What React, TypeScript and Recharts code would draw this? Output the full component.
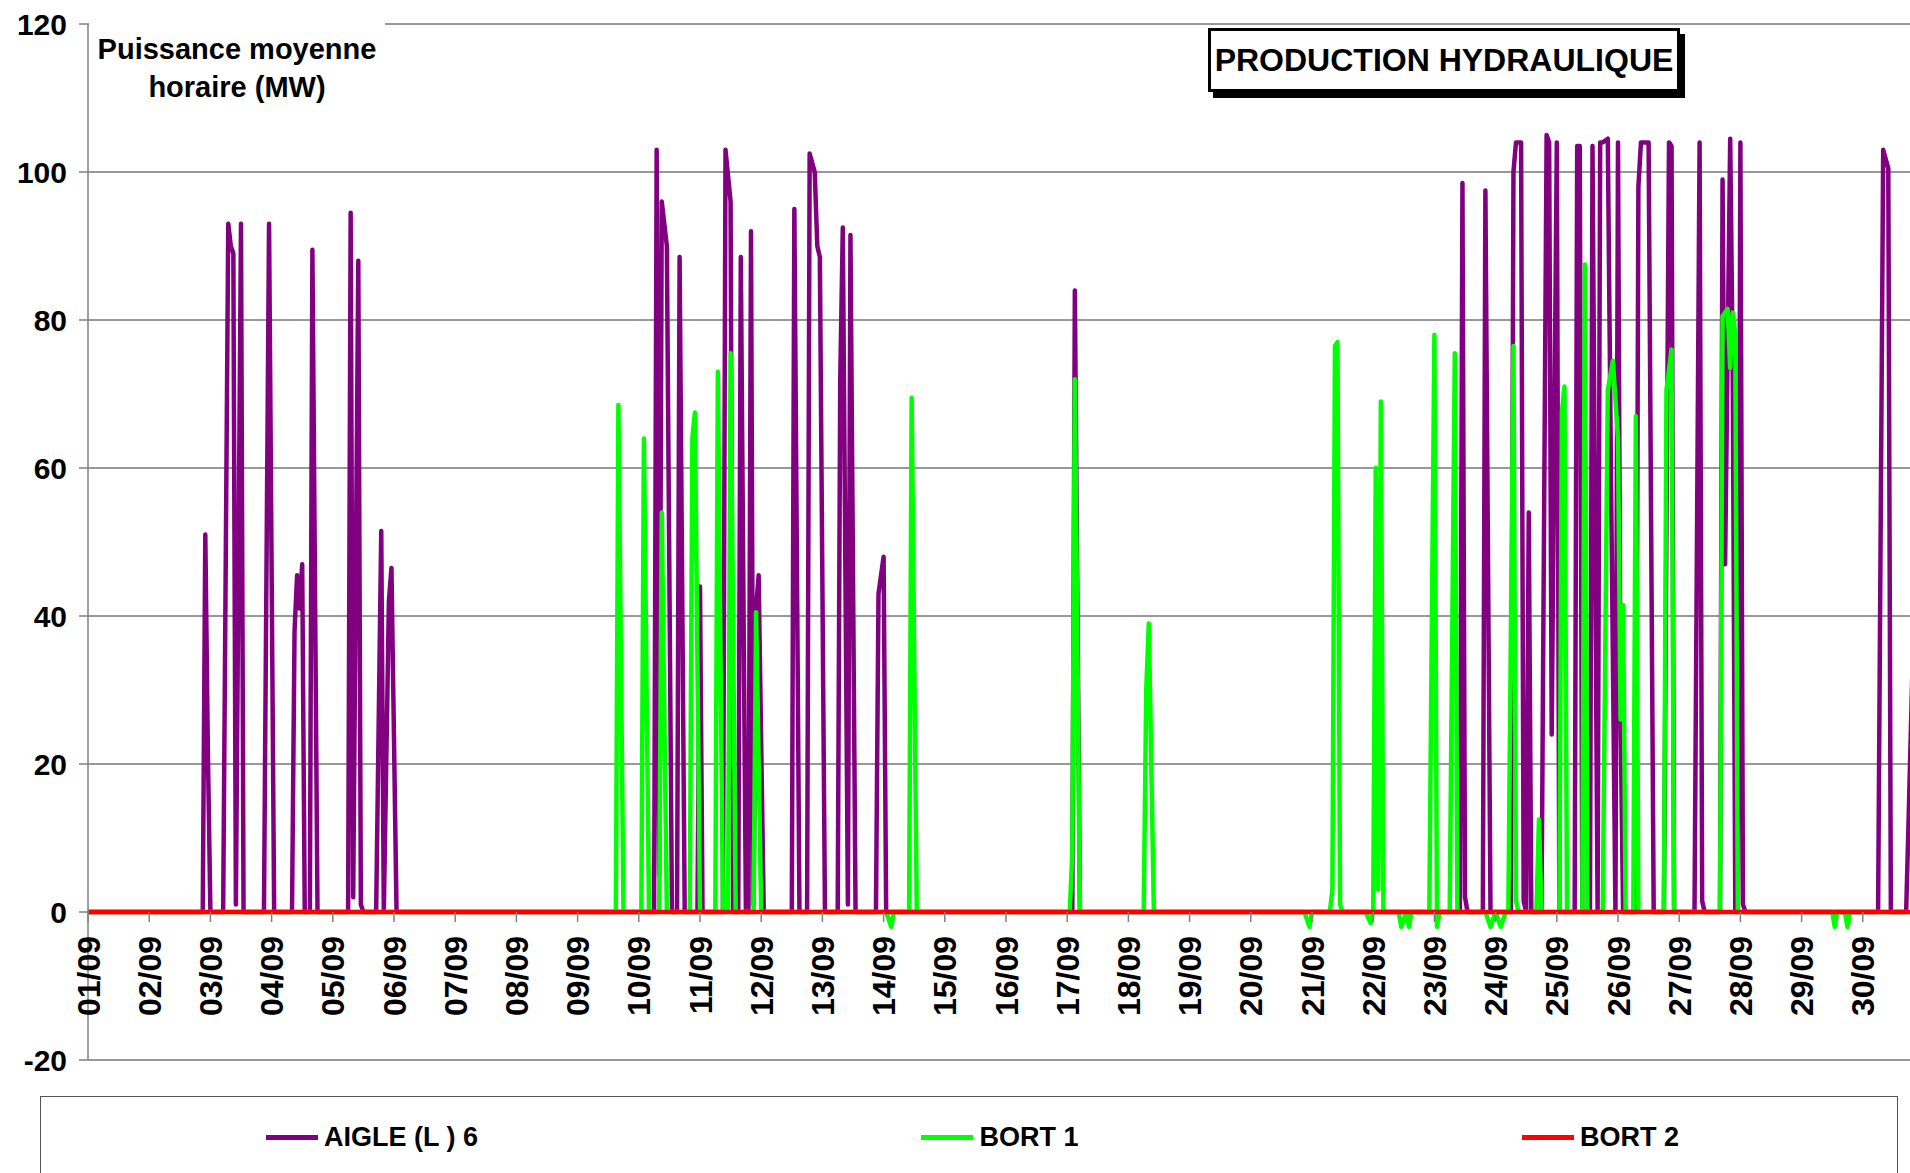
import { CartesianGrid, Line, LineChart, XAxis, YAxis } from 'recharts';

// hour index (0 = 01/09 00h) -> average hourly power (MW), vertices
const AIGLE_PTS: [number, number][] = [
  [0, 0],
  [45, 0], [46, 51], [47, 22], [48, 0],
  [53, 0], [55, 93], [56, 90], [57, 89], [58, 1], [60, 93], [61, 0],
  [69, 0], [71, 93], [73, 0],
  [80, 0], [81, 38], [82, 45.5], [83, 41], [84, 47], [85, 0],
  [87, 0], [88, 89.5], [90, 0],
  [102, 0], [103, 94.5], [104, 2], [106, 88], [107, 1], [108, 0],
  [113, 0], [115, 51.5], [116, 0], [118, 42], [119, 46.5], [121, 0],
  [222, 0], [223, 103], [224, 5], [225, 96], [227, 90], [229, 0],
  [231, 0], [232, 88.5], [234, 0],
  [239, 0], [240, 44], [241, 0],
  [249, 0], [250, 103], [252, 96], [253, 0],
  [255, 0], [256, 88.5], [258, 0],
  [259, 0], [260, 92], [261, 1], [262, 41], [263, 45.5], [265, 0],
  [276, 0], [277, 95], [279, 0],
  [282, 0], [283, 102.5], [285, 100], [286, 90], [287, 88.5], [289, 0],
  [294, 0], [295, 72], [296, 92.5], [298, 1], [299, 91.5], [301, 0],
  [309, 0], [310, 43], [312, 48], [313, 0],
  [386, 0], [387, 84], [389, 0],
  [538, 0], [539, 98.5], [540, 2], [541, 0],
  [547, 0], [548, 97.5], [550, 0],
  [558, 0], [559, 100], [560, 104], [562, 104], [563, 1.5], [564, 0], [565, 54], [566, 0],
  [570, 0], [572, 105], [573, 104], [574, 24], [576, 104], [577, 0],
  [583, 0], [584, 103.5], [585, 103.5], [586, 0],
  [589, 0], [590, 103.5], [592, 0], [593, 104], [594, 104], [596, 104.5], [597, 68], [599, 0],
  [600, 104], [601, 26], [602, 0],
  [607, 0], [608, 98], [609, 104], [612, 104], [614, 0],
  [618, 0], [620, 104], [621, 103.5], [622, 0],
  [630, 0], [632, 104], [633, 1.5], [634, 0],
  [640, 0], [641, 99], [642, 47], [644, 104.5], [645, 73.5], [646, 0],
  [647, 0], [648, 104], [649, 1], [650, 0],
  [702, 0], [704, 103], [706, 100.5], [707, 0],
  [713, 0], [714, 13], [716, 40],
];

const BORT1_PTS: [number, number][] = [
  [0, 0],
  [207, 0], [208, 68.5], [210, 0],
  [217, 0], [218, 64], [220, 0],
  [224, 0], [225, 54], [227, 0],
  [236, 0], [237, 64], [238, 67.5], [240, 0],
  [246, 0], [247, 73], [249, 0],
  [251, 0], [252, 75.5], [254, 0],
  [261, 0], [262, 40.5], [264, 0],
  [313, 0], [315, -2], [316, 0],
  [322, 0], [323, 69.5], [325, 0],
  [385, 0], [386, 8], [387, 72], [389, 0],
  [414, 0], [415, 30], [416, 39], [418, 0],
  [477, 0], [479, -2], [480, 0],
  [487, 0], [488, 3], [489, 76.5], [490, 77], [491, 1], [492, 0],
  [501, 0], [503, -1.5], [504, 0], [505, 60], [506, 3], [507, 69], [508, 0],
  [514, 0], [515, -2], [517, 0], [518, -2], [519, 0],
  [526, 0], [528, 78], [529, -2], [530, 0],
  [534, 0], [536, 75.5], [537, 0],
  [548, 0], [550, -2], [552, 0], [554, -2], [556, 0],
  [557, 0], [559, 76.5], [560, 1.5], [561, 0],
  [568, 0], [569, 12.5], [570, 0],
  [577, 0], [578, 67.5], [579, 71], [580, 0],
  [586, 0], [587, 87.5], [588, 0],
  [594, 0], [596, 70.5], [598, 74.5], [600, 64], [601, 26], [602, 41.5], [603, 0],
  [606, 0], [607, 67], [608, 0],
  [618, 0], [619, 70.5], [621, 76], [622, 0],
  [640, 0], [641, 80.5], [643, 81.5], [644, 73.5], [645, 81], [646, 78], [647, 0],
  [684, 0], [685, -2], [686, 0],
  [689, 0], [690, -2], [691, 0],
  [720, 0],
];

const BORT2_PTS: [number, number][] = [
  [0, 0],
  [720, 0],
];

const DAY_LABELS = [
  '01/09', '02/09', '03/09', '04/09', '05/09', '06/09', '07/09', '08/09', '09/09', '10/09',
  '11/09', '12/09', '13/09', '14/09', '15/09', '16/09', '17/09', '18/09', '19/09', '20/09',
  '21/09', '22/09', '23/09', '24/09', '25/09', '26/09', '27/09', '28/09', '29/09', '30/09',
];
const Y_TICKS = [-20, 0, 20, 40, 60, 80, 100, 120];

const SERIES = [
  { name: 'AIGLE (L ) 6', color: '#800080', points: AIGLE_PTS },
  { name: 'BORT 1', color: '#00FF00', points: BORT1_PTS },
  { name: 'BORT 2', color: '#FF0000', points: BORT2_PTS },
];

const FONT = "'Liberation Sans', Arial, Helvetica, sans-serif";
const CHART_W = 1940;
const CHART_H = 1173;
const PLOT_TOP = 24;
const PLOT_BOTTOM = 1060;
const Y_MIN = -20;
const Y_MAX = 120;
const ZERO_Y = PLOT_TOP + (Y_MAX / (Y_MAX - Y_MIN)) * (PLOT_BOTTOM - PLOT_TOP);
const DAY_TICKS = DAY_LABELS.map((_, i) => i * 24);

function DayTick({ x, payload }: any) {
  const label = DAY_LABELS[Math.round(payload.value / 24)];
  return (
    <g>
      <line x1={x} x2={x} y1={ZERO_Y} y2={ZERO_Y + 10} stroke="#808080" strokeWidth={1.5} />
      <text
        transform={`translate(${x + 11.5},${ZERO_Y + 24}) rotate(-90)`}
        textAnchor="end"
        fontFamily={FONT}
        fontSize={32}
        fontWeight={700}
        fill="#000"
      >
        {label}
      </text>
    </g>
  );
}

export default function App() {
  return (
    <div
      style={{
        position: 'fixed',
        left: 0,
        top: 0,
        width: 1910,
        height: 1173,
        overflow: 'hidden',
        background: '#fff',
        fontFamily: FONT,
      }}
    >
      <LineChart
        width={CHART_W}
        height={CHART_H}
        margin={{ top: PLOT_TOP, right: 16, bottom: CHART_H - PLOT_BOTTOM - 30, left: 0 }}
      >
        <CartesianGrid vertical={false} stroke="#333" strokeWidth={1} />
        <XAxis
          dataKey="h"
          type="number"
          domain={[0, 720]}
          ticks={DAY_TICKS}
          interval={0}
          axisLine={false}
          tickLine={false}
          tick={(props: any) => <DayTick {...props} />}
          height={30}
          allowDataOverflow
        />
        <YAxis
          type="number"
          domain={[Y_MIN, Y_MAX]}
          ticks={Y_TICKS}
          interval={0}
          width={88}
          tickSize={9}
          tickMargin={12}
          axisLine={{ stroke: '#808080', strokeWidth: 1.5 }}
          tickLine={{ stroke: '#808080', strokeWidth: 1.5 }}
          tick={{ fill: '#000', fontSize: 30, fontWeight: 700, fontFamily: FONT }}
          allowDataOverflow
        />
        {SERIES.map((s) => (
          <Line
            key={s.name}
            name={s.name}
            data={s.points.map(([h, v]) => ({ h, v }))}
            dataKey="v"
            type="linear"
            stroke={s.color}
            strokeWidth={4.5}
            strokeLinejoin="round"
            dot={false}
            activeDot={false}
            isAnimationActive={false}
          />
        ))}
      </LineChart>

      <div
        style={{
          position: 'absolute',
          left: 89,
          top: 16,
          width: 296,
          height: 92,
          paddingTop: 14,
          boxSizing: 'border-box',
          background: '#fff',
          textAlign: 'center',
          fontSize: 29,
          lineHeight: '38px',
          fontWeight: 700,
          color: '#000',
        }}
      >
        Puissance moyenne
        <br />
        horaire (MW)
      </div>

      <div
        style={{
          position: 'absolute',
          left: 1208,
          top: 28,
          width: 472,
          height: 64,
          boxSizing: 'border-box',
          border: '3px solid #000',
          boxShadow: '5px 6px 0 #000',
          background: '#fff',
          display: 'flex',
          alignItems: 'center',
          justifyContent: 'center',
          fontSize: 32,
          fontWeight: 700,
          color: '#000',
          whiteSpace: 'nowrap',
        }}
      >
        PRODUCTION HYDRAULIQUE
      </div>

      <div
        style={{
          position: 'absolute',
          left: 40,
          top: 1096,
          width: 1858,
          height: 120,
          boxSizing: 'border-box',
          border: '1px solid #555',
          background: '#fff',
          display: 'flex',
          justifyContent: 'space-between',
          alignItems: 'flex-start',
          paddingTop: 24,
          paddingLeft: 225,
          paddingRight: 218,
        }}
      >
        {SERIES.map((s) => (
          <div key={s.name} style={{ display: 'flex', alignItems: 'center', height: 32 }}>
            <div style={{ width: 52, height: 5, background: s.color, marginRight: 6 }} />
            <span style={{ fontSize: 27, fontWeight: 700, color: '#000', whiteSpace: 'pre' }}>{s.name}</span>
          </div>
        ))}
      </div>
    </div>
  );
}
